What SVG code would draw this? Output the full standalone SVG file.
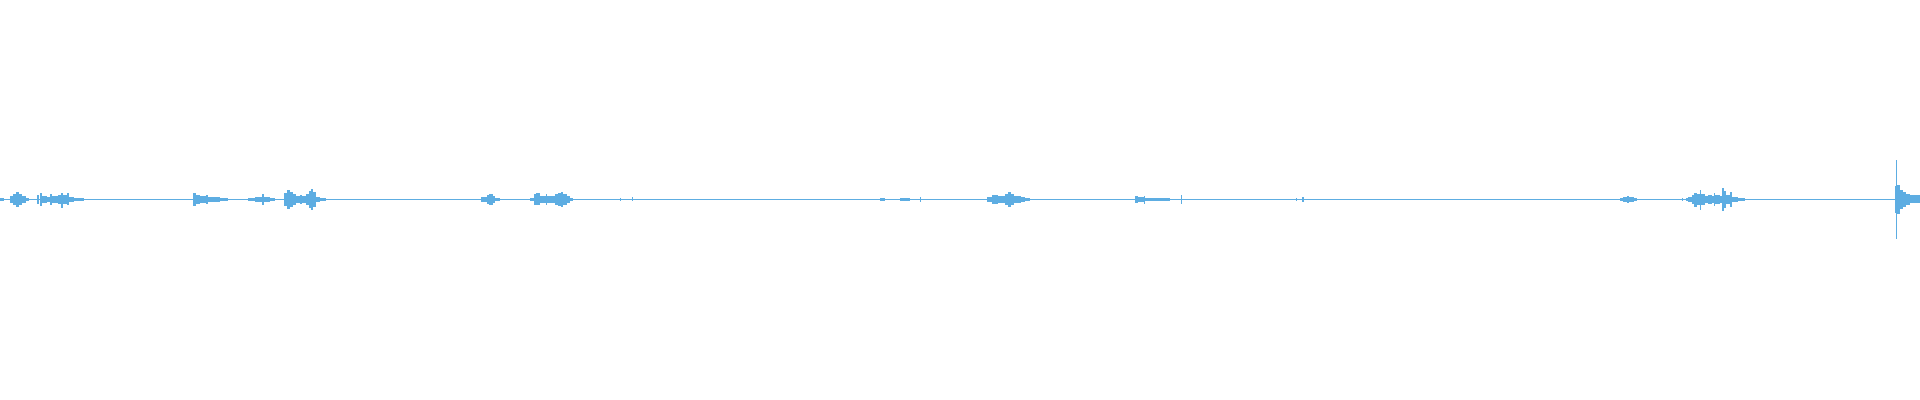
<svg xmlns="http://www.w3.org/2000/svg" width="1920" height="400" viewBox="0 0 1920 400">
<style>.w{fill:#5dade2}.s{stroke:#5dade2;stroke-width:1;fill:none}</style>
<rect width="1920" height="400" fill="#fff"/>
<g id="waveform">
<rect class="w" x="0" y="199" width="1920" height="1"/>
<g class="w">
<rect x="0" y="198" width="4" height="3"/>
<rect x="10" y="196" width="3" height="7"/><rect x="13" y="194" width="3" height="11"/><rect x="16" y="192" width="3" height="15"/><rect x="19" y="194" width="3" height="11"/><rect x="22" y="196" width="4" height="7"/><rect x="26" y="198" width="3" height="3"/>
<rect x="37" y="195" width="2" height="9"/><rect x="40" y="193" width="2" height="13"/><rect x="42" y="196" width="5" height="7"/><rect x="47" y="197" width="3" height="5"/><rect x="50" y="194" width="2" height="11"/><rect x="52" y="196" width="6" height="7"/><rect x="58" y="195" width="3" height="9"/><rect x="61" y="193" width="2" height="15"/><rect x="63" y="195" width="4" height="9"/><rect x="67" y="193" width="2" height="12"/><rect x="69" y="197" width="5" height="5"/><rect x="74" y="198" width="10" height="3"/>
<rect x="193" y="193" width="3" height="13"/><rect x="196" y="195" width="4" height="9"/><rect x="200" y="196" width="6" height="7"/><rect x="206" y="195" width="2" height="9"/><rect x="208" y="197" width="12" height="5"/><rect x="220" y="198" width="8" height="3"/>
<rect x="248" y="198" width="7" height="3"/><rect x="255" y="197" width="7" height="5"/><rect x="262" y="194" width="2" height="11"/><rect x="264" y="197" width="6" height="5"/><rect x="270" y="198" width="5" height="3"/>
<rect x="284" y="193" width="3" height="13"/><rect x="287" y="190" width="3" height="19"/><rect x="290" y="192" width="3" height="15"/><rect x="293" y="194" width="3" height="11"/><rect x="296" y="196" width="4" height="7"/><rect x="300" y="195" width="2" height="9"/><rect x="302" y="196" width="4" height="7"/><rect x="306" y="194" width="3" height="11"/><rect x="309" y="191" width="2" height="17"/><rect x="311" y="189" width="2" height="21"/><rect x="313" y="192" width="3" height="15"/><rect x="316" y="197" width="4" height="5"/><rect x="320" y="198" width="6" height="3"/>
<rect x="481" y="197" width="6" height="5"/><rect x="487" y="195" width="2" height="9"/><rect x="489" y="194" width="4" height="11"/><rect x="493" y="196" width="2" height="7"/><rect x="495" y="198" width="5" height="3"/>
<rect x="530" y="198" width="4" height="3"/><rect x="534" y="194" width="2" height="11"/><rect x="536" y="193" width="4" height="12"/><rect x="540" y="196" width="6" height="7"/><rect x="546" y="194" width="1" height="11"/><rect x="547" y="196" width="8" height="7"/><rect x="555" y="194" width="3" height="11"/><rect x="558" y="193" width="3" height="13"/><rect x="561" y="192" width="2" height="15"/><rect x="563" y="194" width="4" height="11"/><rect x="567" y="196" width="3" height="7"/><rect x="570" y="198" width="3" height="3"/>
<rect x="632" y="197" width="1" height="4"/><rect x="620" y="198" width="1" height="3"/>
<rect x="920" y="197" width="1" height="5"/><rect x="900" y="198" width="10" height="3"/><rect x="880" y="198" width="5" height="3"/>
<rect x="987" y="197" width="5" height="5"/><rect x="992" y="195" width="6" height="9"/><rect x="998" y="196" width="7" height="7"/><rect x="1005" y="194" width="3" height="11"/><rect x="1008" y="192" width="3" height="15"/><rect x="1011" y="194" width="3" height="11"/><rect x="1014" y="196" width="7" height="7"/><rect x="1021" y="197" width="4" height="5"/><rect x="1025" y="198" width="5" height="3"/>
<rect x="1135" y="196" width="3" height="7"/><rect x="1138" y="197" width="6" height="5"/><rect x="1144" y="196" width="1" height="8"/><rect x="1145" y="198" width="25" height="3"/><rect x="1181" y="195" width="1" height="9"/>
<rect x="1296" y="198" width="1" height="3"/><rect x="1302" y="197" width="2" height="5"/>
<rect x="1620" y="198" width="3" height="3"/><rect x="1623" y="197" width="4" height="5"/><rect x="1627" y="196" width="2" height="7"/><rect x="1629" y="197" width="5" height="5"/><rect x="1634" y="198" width="3" height="3"/>
<rect x="1682" y="198" width="1" height="3"/><rect x="1686" y="198" width="2" height="3"/><rect x="1688" y="197" width="4" height="5"/><rect x="1692" y="195" width="2" height="9"/><rect x="1694" y="193" width="3" height="14"/><rect x="1697" y="194" width="3" height="11"/><rect x="1700" y="190" width="1" height="20"/><rect x="1701" y="194" width="4" height="11"/><rect x="1705" y="196" width="3" height="7"/><rect x="1708" y="195" width="4" height="9"/><rect x="1712" y="196" width="2" height="7"/><rect x="1714" y="193" width="1" height="13"/><rect x="1715" y="195" width="5" height="9"/><rect x="1720" y="196" width="2" height="7"/><rect x="1722" y="188" width="2" height="23"/><rect x="1724" y="191" width="2" height="17"/><rect x="1726" y="195" width="4" height="9"/><rect x="1730" y="192" width="2" height="15"/><rect x="1732" y="197" width="6" height="5"/><rect x="1738" y="198" width="7" height="3"/>
<rect x="1896" y="160" width="1" height="79"/><rect x="1895" y="186" width="1" height="27"/><rect x="1897" y="185" width="3" height="29"/><rect x="1900" y="190" width="3" height="19"/><rect x="1903" y="192" width="3" height="15"/><rect x="1906" y="194" width="4" height="11"/><rect x="1910" y="195" width="10" height="8"/>
</g>
</g>
</svg>
